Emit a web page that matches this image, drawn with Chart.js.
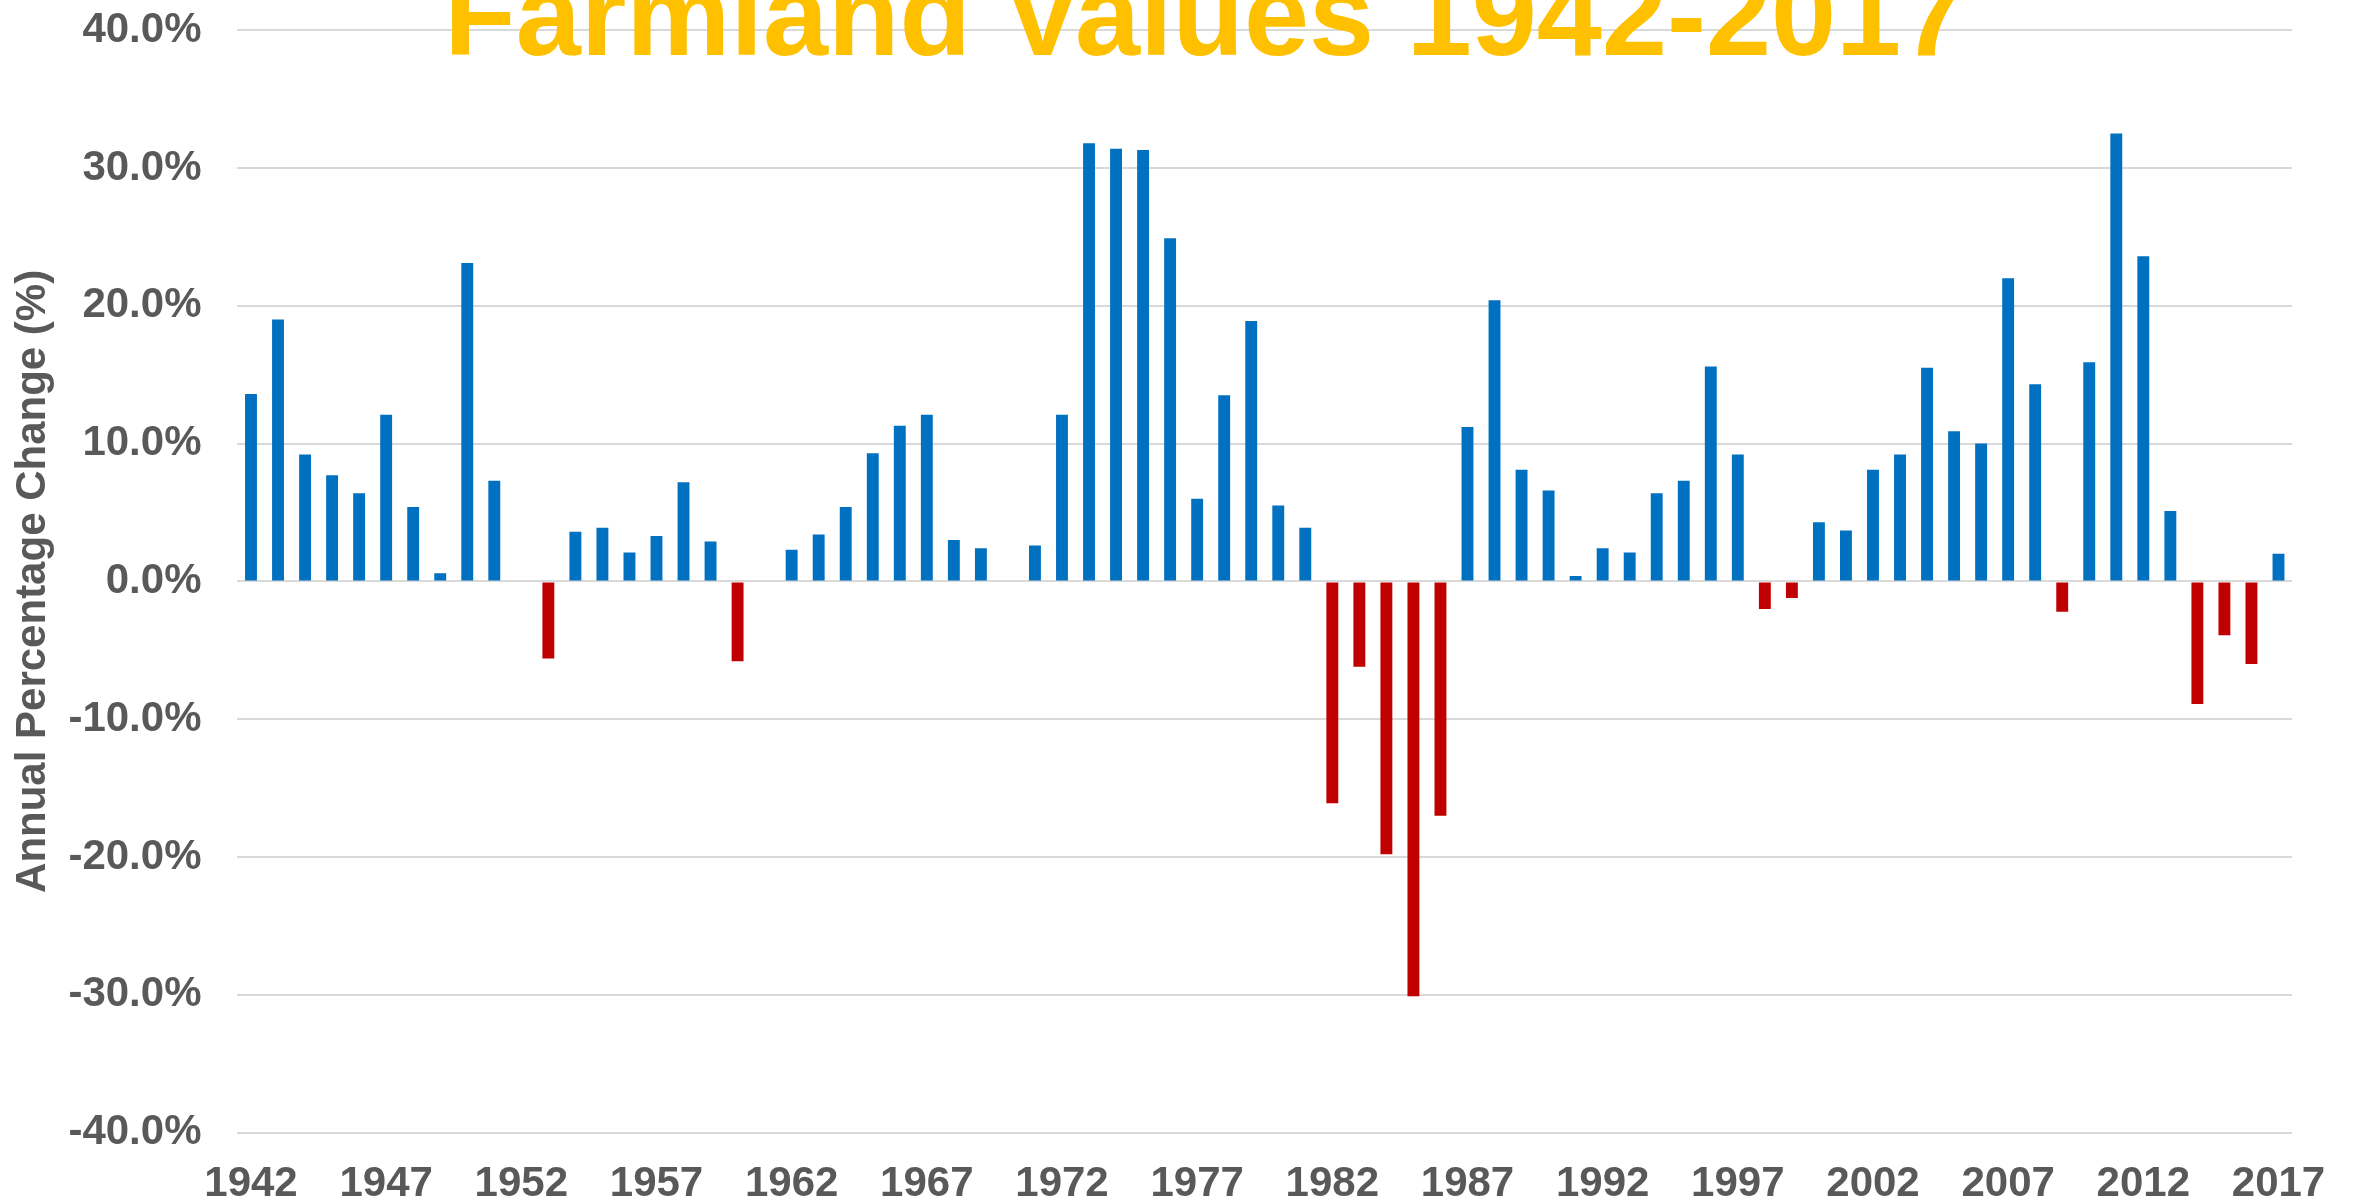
<!DOCTYPE html>
<html>
<head>
<meta charset="utf-8">
<script src="https://cdn.jsdelivr.net/npm/chart.js@4.4.1/dist/chart.umd.min.js"></script>
<style>
  html, body { margin: 0; padding: 0; background: #ffffff; }
  #wrap { width: 2354px; height: 1203px; position: relative; }
</style>
</head>
<body>
<div id="wrap"><canvas id="farmland"></canvas></div>
<script>
// anni (categorie asse x)
const YEARS = [
  "1942","1943","1944","1945","1946","1947","1948","1949","1950","1951",
  "1952","1953","1954","1955","1956","1957","1958","1959","1960","1961",
  "1962","1963","1964","1965","1966","1967","1968","1969","1970","1971",
  "1972","1973","1974","1975","1976","1977","1978","1979","1980","1981",
  "1982","1983","1984","1985","1986","1987","1988","1989","1990","1991",
  "1992","1993","1994","1995","1996","1997","1998","1999","2000","2001",
  "2002","2003","2004","2005","2006","2007","2008","2009","2010","2011",
  "2012","2013","2014","2015","2016","2017"
];

// variazione percentuale annua
const PCT_CHANGE = [
  13.6, 19.0, 9.2, 7.7, 6.4, 12.1, 5.4, 0.6, 23.1, 7.3,
  0, -5.6, 3.6, 3.9, 2.1, 3.3, 7.2, 2.9, -5.8, 0,
  2.3, 3.4, 5.4, 9.3, 11.3, 12.1, 3.0, 2.4, 0, 2.6,
  12.1, 31.8, 31.4, 31.3, 24.9, 6.0, 13.5, 18.9, 5.5, 3.9,
  -16.1, -6.2, -19.8, -30.1, -17.0, 11.2, 20.4, 8.1, 6.6, 0.4,
  2.4, 2.1, 6.4, 7.3, 15.6, 9.2, -2.0, -1.2, 4.3, 3.7,
  8.1, 9.2, 15.5, 10.9, 10.0, 22.0, 14.3, -2.2, 15.9, 32.5,
  23.6, 5.1, -8.9, -3.9, -6.0, 2.0
];

// etichette mostrate sull'asse x
const X_TICK_LABELS = ["1942","1947","1952","1957","1962","1967","1972","1977","1982","1987","1992","1997","2002","2007","2012","2017"];

const TITOLO = "Farmland Values 1942-2017";

const BLUE = "#0070C0";
const RED = "#C00000";
const GREY_TEXT = "#595959";
const barColors = PCT_CHANGE.map(v => v < 0 ? RED : BLUE);

const FONT = "'Liberation Sans', Arial, sans-serif";

// titolo grande, tagliato in alto come nell'originale
const titoloPlugin = {
  id: "titolo",
  afterDraw(chart) {
    const ctx = chart.ctx;
    ctx.save();
    ctx.font = "bold 117px " + FONT;
    ctx.fillStyle = "#FFC000";
    ctx.textAlign = "center";
    ctx.textBaseline = "alphabetic";
    ctx.fillText(TITOLO, chart.width * 0.512, 55);
    ctx.restore();
  }
};

new Chart("farmland", {
  type: "bar",
  data: {
    labels: YEARS,
    datasets: [{
      data: PCT_CHANGE,
      backgroundColor: barColors,
      borderWidth: 0,
      categoryPercentage: 1.0,
      barPercentage: 0.44
    }]
  },
  plugins: [titoloPlugin],
  options: {
    responsive: true,
    maintainAspectRatio: false,
    animation: false,
    devicePixelRatio: 1,
    layout: { padding: { top: 0, left: 8, right: 62, bottom: -34 } },
    plugins: {
      legend: { display: false },
      tooltip: { enabled: false },
      title: { display: false }
    },
    scales: {
      x: {
        grid: { display: false, drawTicks: false },
        border: { display: false },
        ticks: {
          autoSkip: false,
          maxRotation: 0,
          minRotation: 0,
          padding: 27,
          color: GREY_TEXT,
          font: { family: FONT, size: 42, weight: "bold" },
          callback: function(value) {
            const lab = this.getLabelForValue(value);
            return X_TICK_LABELS.includes(lab) ? lab : "";
          }
        }
      },
      y: {
        min: -40,
        max: 40,
        grid: {
          color: "#D9D9D9",
          lineWidth: 2,
          drawTicks: true,
          tickLength: 31,
          tickColor: "rgba(0,0,0,0)"
        },
        border: { display: false },
        ticks: {
          stepSize: 10,
          padding: 5,
          color: GREY_TEXT,
          font: { family: FONT, size: 42, weight: "bold" },
          callback: v => v.toFixed(1) + "%"
        },
        title: {
          display: true,
          text: "Annual Percentage Change (%)",
          color: GREY_TEXT,
          font: { family: FONT, size: 42, weight: "bold" },
          padding: { top: 0, bottom: 5 }
        }
      }
    }
  }
});
</script>
</body>
</html>
